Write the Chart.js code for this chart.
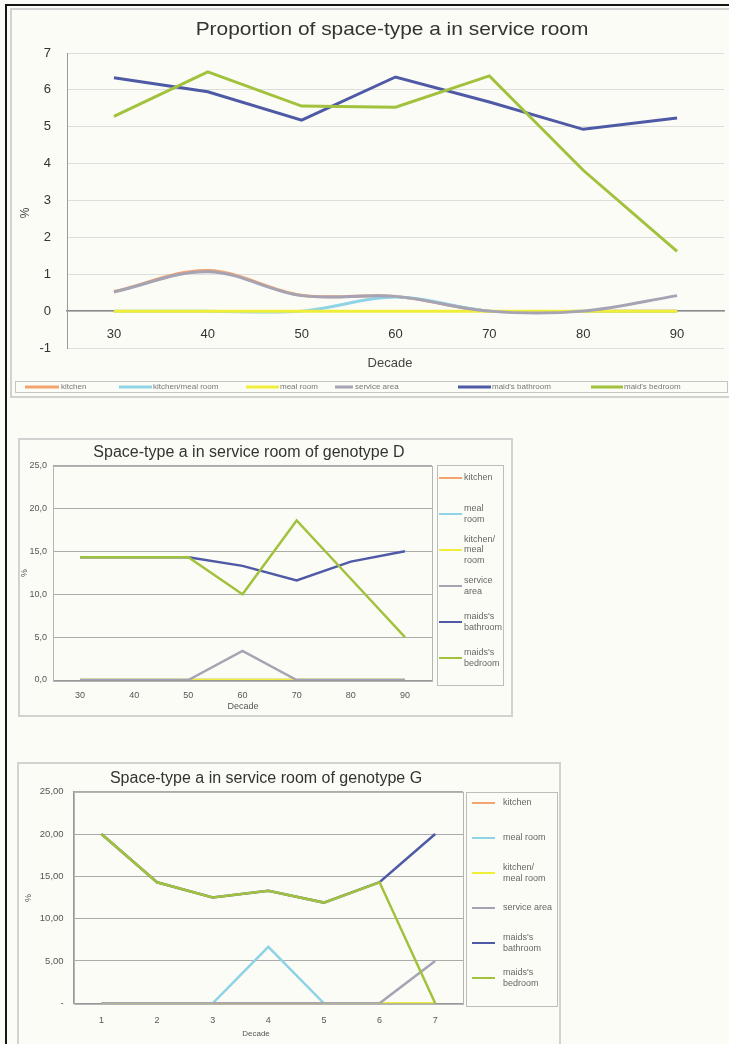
<!DOCTYPE html>
<html>
<head>
<meta charset="utf-8">
<script src="https://cdn.jsdelivr.net/npm/chart.js@4.4.0/dist/chart.umd.min.js"></script>
<style>
  html, body { margin: 0; padding: 0; width: 729px; height: 1044px; overflow: hidden; background: #fcfcf6; }
  .rule, .frame { position: absolute; box-sizing: border-box; }
  .rule { background: #151515; }
  .frame { border: 2px solid #d2d2d0; }
  canvas { position: absolute; }
</style>
</head>
<body>
<div class="rule" style="left:5px;top:4px;width:724px;height:2px"></div>
<div class="rule" style="left:5px;top:4px;width:2px;height:1040px"></div>
<div class="frame" style="left:10px;top:8px;width:722px;height:390px"></div>
<div class="frame" style="left:18px;top:438px;width:495px;height:279px"></div>
<div class="frame" style="left:17px;top:762px;width:544px;height:300px"></div>

<canvas id="c1" width="717" height="388" style="left:12px;top:9px"></canvas>
<canvas id="c2" width="492" height="276" style="left:19px;top:439px"></canvas>
<canvas id="c3" width="541" height="290" style="left:18px;top:763px"></canvas>

<script>
// ---- Overall proportion by decade ----
const decades = ['30', '40', '50', '60', '70', '80', '90'];
const seriesAll = ['kitchen', 'kitchen/meal room', 'meal room', 'service area', "maid's bathroom", "maid's bedroom"];
const kitchenAll     = [0.53, 1.10, 0.43, 0.40, 0.00, 0.00, 0.00];
const kitchenMealAll = [0.00, 0.00, 0.00, 0.38, 0.00, 0.00, 0.00];
const mealAll        = [0.00, 0.00, 0.00, 0.00, 0.00, 0.00, 0.00];
const serviceAll     = [0.52, 1.07, 0.42, 0.40, 0.00, 0.00, 0.42];
const bathroomAll    = [6.33, 5.95, 5.18, 6.35, 5.67, 4.93, 5.24];
const bedroomAll     = [5.28, 6.49, 5.56, 5.53, 6.38, 3.82, 1.62];

// ---- Genotype D ----
const seriesD = ['kitchen', 'meal room', 'kitchen/ meal room', 'service area', "maids's bathroom", "maids's bedroom"];
const kitchenD     = [0, 0, 0, 0, 0, 0, 0];
const mealD        = [0, 0, 0, 0, 0, 0, 0];
const kitchenMealD = [0, 0, 0, 0, 0, 0, 0];
const serviceD     = [0, 0, 0, 3.4, 0, 0, 0];
const bathroomD    = [14.3, 14.3, 14.3, 13.3, 11.6, 13.8, 15.0];
const bedroomD     = [14.3, 14.3, 14.3, 10.0, 18.6, 11.8, 5.0];

// ---- Genotype G ----
const periodsG = ['1', '2', '3', '4', '5', '6', '7'];
const seriesG = ['kitchen', 'meal room', 'kitchen/ meal room', 'service area', "maids's bathroom", "maids's bedroom"];
const kitchenG     = [0, 0, 0, 0, 0, 0, 0];
const mealG        = [0, 0, 0, 6.67, 0, 0, 0];
const kitchenMealG = [0, 0, 0, 0, 0, 0, 0];
const serviceG     = [0, 0, 0, 0, 0, 0, 5.0];
const bathroomG    = [20.0, 14.3, 12.5, 13.3, 11.9, 14.3, 20.0];
const bedroomG     = [20.0, 14.3, 12.5, 13.3, 11.9, 14.3, 0.0];

const FONT = '"Liberation Sans", Arial, sans-serif';
Chart.defaults.font.family = FONT;

const COL = {
  orange: '#f2a36e', lightblue: '#8fd3e6', yellow: '#f1ee3a',
  gray: '#a6a4b4', blue: '#4f5aa6', green: '#a2c23e'
};

function makeSets(names, arrays, colors, width, tensions) {
  const n = arrays.length;
  return arrays.map((data, i) => ({
    label: names[i],
    data,
    borderColor: colors[i],
    backgroundColor: colors[i],
    borderWidth: width,
    pointRadius: 0,
    tension: tensions ? tensions[i] : 0,
    fill: false,
    order: n - i   // later series drawn on top
  }));
}

function drawText(ctx, t) {
  ctx.save();
  ctx.translate(t.x, t.y);
  if (t.rotate) ctx.rotate(t.rotate);
  ctx.scale(t.sx || 1, 1);
  ctx.font = (t.weight || 'normal') + ' ' + t.size + 'px ' + FONT;
  ctx.fillStyle = t.color || '#333';
  ctx.textAlign = t.align || 'center';
  ctx.textBaseline = 'middle';
  ctx.fillText(t.text, 0, 0);
  ctx.restore();
}

function wrapWords(ctx, text, maxWidth) {
  const words = text.split(' ');
  const lines = [];
  let cur = '';
  words.forEach(w => {
    const test = cur ? cur + ' ' + w : w;
    if (cur && ctx.measureText(test).width > maxWidth) { lines.push(cur); cur = w; }
    else cur = test;
  });
  if (cur) lines.push(cur);
  return lines;
}

// Titles, axis names, plot border and the boxed legend
const decor = {
  id: 'decor',
  beforeDatasetsDraw(chart, args, o) {
    if (!o.plotBorder) return;
    const a = chart.chartArea, ctx = chart.ctx;
    ctx.save();
    ctx.strokeStyle = o.plotBorder;
    ctx.lineWidth = 1;
    ctx.strokeRect(Math.round(a.left) + 0.5, Math.round(a.top) + 0.5,
                   Math.round(a.right - a.left), Math.round(a.bottom - a.top));
    ctx.restore();
  },
  afterDraw(chart, args, o) {
    const ctx = chart.ctx;
    (o.texts || []).forEach(t => drawText(ctx, t));
    const lg = o.legend;
    if (!lg) return;
    const lh = lg.lineHeight || lg.size * 1.2;
    ctx.save();
    ctx.strokeStyle = lg.boxColor;
    ctx.lineWidth = 1;
    ctx.strokeRect(lg.box[0] + 0.5, lg.box[1] + 0.5, lg.box[2] - lg.box[0], lg.box[3] - lg.box[1]);
    ctx.font = lg.size + 'px ' + FONT;
    ctx.textBaseline = 'middle';
    ctx.textAlign = 'left';
    chart.data.datasets.forEach((ds, i) => {
      let x0, x1, tx, y;
      if (lg.row) {
        [x0, x1, tx] = lg.row[i];
        y = lg.y;
      } else {
        x0 = lg.sample[0]; x1 = lg.sample[1]; tx = lg.textX;
        y = lg.firstY + i * lg.step;
      }
      ctx.strokeStyle = ds.borderColor;
      ctx.lineWidth = lg.lineWidth;
      ctx.beginPath(); ctx.moveTo(x0, y); ctx.lineTo(x1, y); ctx.stroke();
      ctx.fillStyle = lg.color;
      const lines = lg.maxWidth ? wrapWords(ctx, ds.label, lg.maxWidth) : [ds.label];
      const y0 = y - (lines.length - 1) * lh / 2;
      lines.forEach((ln, k) => ctx.fillText(ln, tx, y0 + k * lh));
    });
    ctx.restore();
  }
};
Chart.register(decor);

const base = { responsive: false, animation: false, devicePixelRatio: 1, events: [] };

// ---------- Chart 1 ----------
new Chart(document.getElementById('c1'), {
  type: 'line',
  data: {
    labels: decades,
    datasets: makeSets(seriesAll,
      [kitchenAll, kitchenMealAll, mealAll, serviceAll, bathroomAll, bedroomAll],
      [COL.orange, COL.lightblue, COL.yellow, COL.gray, COL.blue, COL.green],
      3, [0.35, 0.35, 0, 0.35, 0, 0])
  },
  options: Object.assign({}, base, {
    layout: { padding: { top: 44, right: 5, bottom: 49, left: 0 } },
    plugins: {
      legend: { display: false }, tooltip: { enabled: false },
      decor: {
        texts: [
          { text: 'Proportion of space-type a in service room', x: 380, y: 21, size: 19, sx: 1.1, color: '#333' },
          { text: 'Decade', x: 378, y: 354, size: 13, color: '#444' },
          { text: '%', x: 14, y: 204, size: 12, rotate: -Math.PI / 2, color: '#444' }
        ],
        legend: {
          box: [3, 372, 715, 383], boxColor: '#c4c4c4', size: 8, color: '#777', lineWidth: 3, y: 378,
          row: [[13, 47, 49], [107, 140, 141], [234, 267, 268], [323, 341, 343], [446, 479, 480], [579, 611, 612]]
        }
      }
    },
    scales: {
      x: {
        type: 'category', position: { y: 0 }, offset: true,
        grid: { display: false, drawTicks: false },
        border: { display: true, color: '#8a8a8a', width: 1.5 },
        ticks: { padding: 15, color: '#333', font: { size: 13 }, maxRotation: 0, autoSkip: false }
      },
      y: {
        min: -1, max: 7,
        ticks: { stepSize: 1, padding: 16, color: '#333', font: { size: 13 } },
        grid: { color: '#dedede', drawTicks: false },
        border: { display: true, color: '#9a9a9a' },
        afterFit(s) { s.width = 55; }
      }
    }
  })
});

// ---------- Chart 2 ----------
new Chart(document.getElementById('c2'), {
  type: 'line',
  data: {
    labels: decades,
    datasets: makeSets(seriesD,
      [kitchenD, mealD, kitchenMealD, serviceD, bathroomD, bedroomD],
      [COL.orange, COL.lightblue, COL.yellow, COL.gray, COL.blue, COL.green],
      2.5)
  },
  options: Object.assign({}, base, {
    layout: { padding: { top: 26.5, right: 79, bottom: 0, left: 0 } },
    plugins: {
      legend: { display: false }, tooltip: { enabled: false },
      decor: {
        plotBorder: '#b4b4b4',
        texts: [
          { text: 'Space-type a in service room of genotype D', x: 230, y: 14, size: 16, color: '#333' },
          { text: 'Decade', x: 224, y: 268, size: 9, color: '#555' },
          { text: '%', x: 6, y: 134, size: 9, rotate: -Math.PI / 2, color: '#555' }
        ],
        legend: {
          box: [418, 26, 484, 246], boxColor: '#bdbdbd', size: 9, color: '#666', lineWidth: 2,
          sample: [420, 443], textX: 445, firstY: 39, step: 36, lineHeight: 10.5, maxWidth: 40
        }
      }
    },
    scales: {
      x: {
        type: 'category', offset: true,
        grid: { display: false, drawTicks: false },
        border: { display: true, color: '#999' },
        ticks: { padding: 10, color: '#555', font: { size: 9 }, maxRotation: 0, autoSkip: false },
        afterFit(s) { s.height = 35; }
      },
      y: {
        min: 0, max: 25,
        ticks: { stepSize: 5, padding: 6, color: '#555', font: { size: 9 },
                 callback: v => v.toFixed(1).replace('.', ',') },
        grid: { color: '#ababab', drawTicks: false },
        border: { display: true, color: '#999' },
        afterFit(s) { s.width = 34; }
      }
    }
  })
});

// ---------- Chart 3 ----------
new Chart(document.getElementById('c3'), {
  type: 'line',
  data: {
    labels: periodsG,
    datasets: makeSets(seriesG,
      [kitchenG, mealG, kitchenMealG, serviceG, bathroomG, bedroomG],
      [COL.orange, COL.lightblue, COL.yellow, COL.gray, COL.blue, COL.green],
      2.5)
  },
  options: Object.assign({}, base, {
    layout: { padding: { top: 28.7, right: 96, bottom: 0, left: 0 } },
    plugins: {
      legend: { display: false }, tooltip: { enabled: false },
      decor: {
        plotBorder: '#b4b4b4',
        texts: [
          { text: 'Space-type a in service room of genotype G', x: 248, y: 16, size: 16, color: '#333' },
          { text: 'Decade', x: 238, y: 271, size: 8, color: '#555' },
          { text: '%', x: 11, y: 135, size: 9, rotate: -Math.PI / 2, color: '#555' }
        ],
        legend: {
          box: [448, 29, 539, 243], boxColor: '#bdbdbd', size: 9, color: '#666', lineWidth: 2,
          sample: [454, 477], textX: 485, firstY: 40, step: 35, lineHeight: 10.5, maxWidth: 51
        }
      }
    },
    scales: {
      x: {
        type: 'category', offset: true,
        grid: { display: false, drawTicks: false },
        border: { display: true, color: '#999' },
        ticks: { padding: 12, color: '#555', font: { size: 9 }, maxRotation: 0, autoSkip: false },
        afterFit(s) { s.height = 49.7; }
      },
      y: {
        min: 0, max: 25,
        ticks: { stepSize: 5, padding: 10, color: '#555', font: { size: 9.5 },
                 callback: v => v === 0 ? '-' : v.toFixed(2).replace('.', ',') },
        grid: { color: '#ababab', drawTicks: false },
        border: { display: true, color: '#999' },
        afterFit(s) { s.width = 55.6; }
      }
    }
  })
});
</script>
</body>
</html>
